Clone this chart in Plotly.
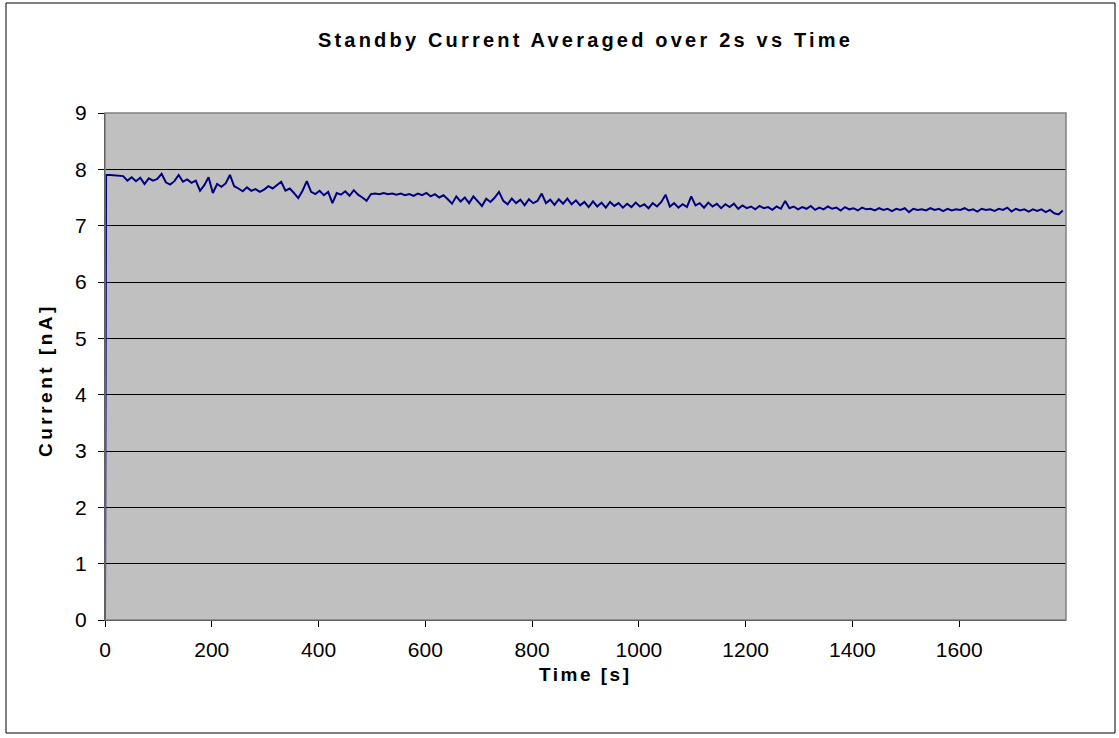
import plotly.graph_objects as go

# standby current, 2 s averages, sampled every 8 s from t = 2 s
current_na = [
    7.90, 7.90, 7.89, 7.88, 7.88, 7.80, 7.86, 7.79, 7.85, 7.74,
    7.84, 7.80, 7.83, 7.92, 7.77, 7.73, 7.79, 7.90, 7.78, 7.82,
    7.76, 7.80, 7.62, 7.72, 7.86, 7.58, 7.74, 7.69, 7.75, 7.90,
    7.70, 7.66, 7.61, 7.68, 7.62, 7.65, 7.60, 7.64, 7.70, 7.66,
    7.72, 7.78, 7.62, 7.66, 7.58, 7.49, 7.62, 7.79, 7.60, 7.56,
    7.62, 7.54, 7.60, 7.40, 7.58, 7.55, 7.61, 7.53, 7.63, 7.55,
    7.50, 7.44, 7.56, 7.57, 7.56, 7.58, 7.56, 7.57, 7.55, 7.57,
    7.54, 7.56, 7.53, 7.57, 7.54, 7.58, 7.52, 7.56, 7.50, 7.54,
    7.47, 7.39, 7.52, 7.43, 7.50, 7.40, 7.52, 7.44, 7.35, 7.48,
    7.42, 7.50, 7.60, 7.44, 7.38, 7.48, 7.40, 7.46, 7.36, 7.47,
    7.40, 7.44, 7.57, 7.40, 7.46, 7.37, 7.47, 7.39, 7.48, 7.38,
    7.45, 7.36, 7.42, 7.33, 7.43, 7.34, 7.41, 7.32, 7.42, 7.35,
    7.40, 7.32, 7.39, 7.33, 7.41, 7.34, 7.38, 7.31, 7.40, 7.34,
    7.42, 7.55, 7.34, 7.40, 7.32, 7.38, 7.33, 7.52, 7.36, 7.40,
    7.32, 7.41, 7.34, 7.39, 7.31, 7.38, 7.33, 7.39, 7.30, 7.36,
    7.31, 7.34, 7.29, 7.35, 7.31, 7.33, 7.28, 7.34, 7.30, 7.44,
    7.31, 7.34, 7.29, 7.33, 7.30, 7.35, 7.28, 7.32, 7.29, 7.34,
    7.30, 7.32, 7.27, 7.33, 7.29, 7.31, 7.27, 7.32, 7.29, 7.30,
    7.27, 7.31, 7.28, 7.30, 7.26, 7.30, 7.28, 7.31, 7.24, 7.30,
    7.28, 7.29, 7.27, 7.31, 7.28, 7.30, 7.26, 7.30, 7.27, 7.29,
    7.28, 7.31, 7.27, 7.29, 7.25, 7.30, 7.28, 7.29, 7.26, 7.30,
    7.28, 7.32, 7.25, 7.30, 7.27, 7.29, 7.25, 7.29, 7.26, 7.29,
    7.24, 7.28, 7.22, 7.20, 7.27,
]
sample_times = list(range(2, 1800, 8))

# logger starts at 0 nA before the first average arrives
time_s = [0] + sample_times[:len(current_na)]
current = [0.0] + current_na

x_ticks = [0, 200, 400, 600, 800, 1000, 1200, 1400, 1600]
y_ticks = [0, 1, 2, 3, 4, 5, 6, 7, 8, 9]

FONT = "Liberation Sans, Arial, sans-serif"

fig = go.Figure(go.Scatter(x=time_s, y=current, mode="lines",
                           line=dict(color="#000080", width=2)))

fig.update_layout(
    width=1119, height=738,
    margin=dict(l=105, r=53, t=113, b=118),
    paper_bgcolor="white", plot_bgcolor="#c0c0c0",
    showlegend=False,
    font=dict(family=FONT, color="black"),
    title=dict(text="<b>Standby Current Averaged over 2s vs Time</b>",
               x=0.5, xref="paper", xanchor="center",
               y=1 - 40 / 738, yanchor="middle",
               font=dict(size=20, family=FONT)),
)
fig.update_xaxes(range=[0, 1800], tickvals=x_ticks, showgrid=False,
                 ticks="outside", ticklen=6, tickcolor="black",
                 showline=True, linecolor="black", linewidth=1,
                 tickfont=dict(size=21), ticklabelstandoff=5, zeroline=False)
fig.update_yaxes(range=[0, 9], tickvals=y_ticks, showgrid=True,
                 gridcolor="black", gridwidth=1,
                 ticks="outside", ticklen=6, tickcolor="black",
                 showline=True, linecolor="black", linewidth=1,
                 tickfont=dict(size=21), ticklabelstandoff=7, zeroline=False)

# axis titles placed like the original chart
fig.add_annotation(text="<b>Time [s]</b>", xref="paper", yref="paper",
                   x=0.5, y=(620 - 674) / 507, xanchor="center", yanchor="middle",
                   showarrow=False, font=dict(size=19))
fig.add_annotation(text="<b>Current [nA]</b>", xref="paper", yref="paper",
                   x=(45 - 105) / 961, y=(620 - 380) / 507, textangle=-90,
                   xanchor="center", yanchor="middle",
                   showarrow=False, font=dict(size=19))

# plot area frame and the outer chart border
fig.add_shape(type="rect", xref="paper", yref="paper", x0=0, y0=0, x1=1, y1=1,
              line=dict(color="#808080", width=1.5), layer="above")
fig.add_shape(type="rect", xref="paper", yref="paper",
              x0=(6 - 105) / 961, x1=(1115 - 105) / 961,
              y0=(620 - 733) / 507, y1=(620 - 3) / 507,
              line=dict(color="black", width=1))

# page without body margin, titles letter-spaced like the original
post = """
document.body.style.margin = '0';
var gd = document.getElementById('{plot_id}');
function spacing() {
  gd.querySelectorAll('.gtitle').forEach(function (e) { e.style.letterSpacing = '3.2px'; });
  var ann = gd.querySelectorAll('.annotation-text');
  if (ann.length > 0) ann[0].style.letterSpacing = '2.5px';
  if (ann.length > 1) ann[1].style.letterSpacing = '3.5px';
}
spacing();
gd.on('plotly_afterplot', spacing);
"""
fig.write_html("out.html", post_script=post, config={"displayModeBar": False})
